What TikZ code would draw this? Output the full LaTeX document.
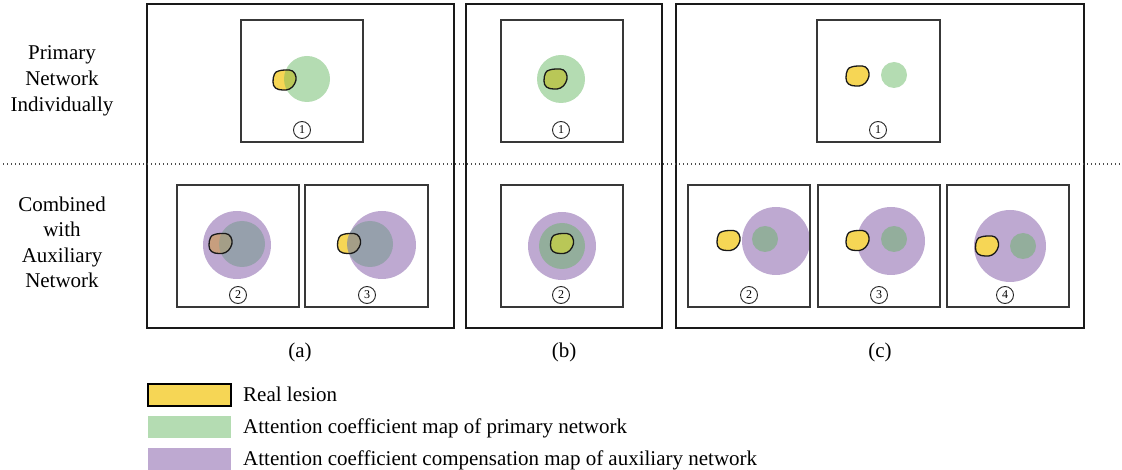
\documentclass[tikz,border=0pt]{standalone}
\usepackage{fontspec}
\setmainfont{Liberation Serif}
\definecolor{lesionY}{HTML}{F6D655}
\definecolor{attnG}{HTML}{B4DCB2}
\definecolor{compP}{HTML}{BEA9D1}
\definecolor{mixPG}{HTML}{93AE9C}
\definecolor{mixGray}{HTML}{96A0AC}
\definecolor{lesOlive}{HTML}{B9C757}
\definecolor{lesTan}{HTML}{C79E7E}
\definecolor{lesGray}{HTML}{A49E87}
\tikzset{
  panel/.style={draw=black!90, line width=1.2pt},
  cell/.style={draw=black!78, line width=1.4pt},
  lesionline/.style={draw=black!90, line width=1.3pt, line join=round},
  tag/.style={circle, draw=black!85, line width=0.9pt, inner sep=0pt,
              minimum size=17pt, font=\fontsize{12}{12}\selectfont},
  lab/.style={font=\fontsize{21}{25}\selectfont, inner sep=0pt},
  sep/.style={draw=black!70, line width=1.1pt, dash pattern=on 1.1pt off 2.9pt},
}
% irregular lesion outline around a centre point
\newcommand\lesionfill[3]{\fill[#1, shift={(#2,#3)}] plot[smooth cycle, tension=0.7] coordinates
  {(-10,-6) (-6,-9) (1,-10) (8,-9) (11.5,-3) (10,4) (5,9) (-2,10) (-9,8) (-11.5,2)};}
\newcommand\lesionclip[2]{\clip[shift={(#1,#2)}] plot[smooth cycle, tension=0.7] coordinates
  {(-10,-6) (-6,-9) (1,-10) (8,-9) (11.5,-3) (10,4) (5,9) (-2,10) (-9,8) (-11.5,2)};}
\newcommand\lesionedge[2]{\draw[lesionline, shift={(#1,#2)}] plot[smooth cycle, tension=0.7] coordinates
  {(-10,-6) (-6,-9) (1,-10) (8,-9) (11.5,-3) (10,4) (5,9) (-2,10) (-9,8) (-11.5,2)};}

\begin{document}
\begin{tikzpicture}[x=1pt,y=-1pt]
\useasboundingbox (0,0) rectangle (1122,470);

% ---------- row labels ----------
\node[lab, anchor=base] (p1) at (62,60) {Primary};
\node[lab, anchor=base] (p2) at (62,86) {Network};
\node[lab, anchor=base] (p3) at (62,112) {Individually};
\node[lab, anchor=base] (c1) at (62,212) {Combined};
\node[lab, anchor=base] (c2) at (62,237) {with};
\node[lab, anchor=base] (c3) at (62,263) {Auxiliary};
\node[lab, anchor=base] (c4) at (62,288) {Network};

% ---------- panel (a) ----------
% (a)1
\fill[attnG] (307,79) circle[radius=23pt];
\lesionfill{lesionY}{284.5}{80}
\begin{scope}\lesionclip{284.5}{80}\fill[lesOlive] (307,79) circle[radius=23pt];\end{scope}
\lesionedge{284.5}{80}
% (a)2
\fill[compP] (237,245) circle[radius=34pt];
\fill[mixGray] (242,244) circle[radius=23pt];
\lesionfill{lesTan}{220.5}{243.5}
\begin{scope}\lesionclip{220.5}{243.5}\fill[lesGray] (242,244) circle[radius=23pt];\end{scope}
\lesionedge{220.5}{243.5}
% (a)3
\fill[compP] (382,245) circle[radius=34pt];
\fill[mixGray] (370,244) circle[radius=23pt];
\lesionfill{lesionY}{349}{243.5}
\begin{scope}\lesionclip{349}{243.5}\fill[lesTan] (382,245) circle[radius=34pt];
  \fill[lesGray] (370,244) circle[radius=23pt];\end{scope}
\lesionedge{349}{243.5}

\draw[cell] (241,20) rectangle (363,142);
\draw[cell] (177,185) rectangle (299,307);
\draw[cell] (305,185) rectangle (428,307);
\node[tag] (a1) at (302,130) {1};
\node[tag] (a2) at (238,295) {2};
\node[tag] (a3) at (367,295) {3};
\draw[panel] (147,4) rectangle (454,328);

% ---------- panel (b) ----------
\fill[attnG] (561,79) circle[radius=24pt];
\lesionfill{lesOlive}{555.5}{79}
\lesionedge{555.5}{79}
\fill[compP] (562,246) circle[radius=34pt];
\fill[mixPG] (562,246) circle[radius=23pt];
\lesionfill{lesOlive}{562}{243.5}
\lesionedge{562}{243.5}
\draw[cell] (501,20) rectangle (623,142);
\draw[cell] (501,185) rectangle (623,307);
\node[tag] (b1) at (561,130) {1};
\node[tag] (b2) at (561,295) {2};
\draw[panel] (466,4) rectangle (662,328);

% ---------- panel (c) ----------
\fill[attnG] (894,75) circle[radius=13pt];
\lesionfill{lesionY}{857.5}{76}
\lesionedge{857.5}{76}
\fill[compP] (776,241) circle[radius=34pt];
\fill[mixPG] (765,239) circle[radius=13pt];
\lesionfill{lesionY}{728.5}{240.5}
\lesionedge{728.5}{240.5}
\fill[compP] (891,241) circle[radius=34pt];
\fill[mixPG] (894,239) circle[radius=13pt];
\lesionfill{lesionY}{857.5}{240.5}
\lesionedge{857.5}{240.5}
\fill[compP] (1010,246) circle[radius=36pt];
\fill[mixPG] (1023,246) circle[radius=13pt];
\lesionfill{lesionY}{987}{246}
\lesionedge{987}{246}
\draw[cell] (817,20) rectangle (940,142);
\draw[cell] (688,185) rectangle (810,307);
\draw[cell] (818,185) rectangle (940,307);
\draw[cell] (947,185) rectangle (1069,307);
\node[tag] (cc1) at (878,130) {1};
\node[tag] (cc2) at (749,295) {2};
\node[tag] (cc3) at (879,295) {3};
\node[tag] (cc4) at (1005,295) {4};
\draw[panel] (676,4) rectangle (1084,328);

% ---------- row separator ----------
\coordinate (sepL) at (3,164);
\coordinate (sepR) at (1120,164);
\draw[sep] (sepL) -- (sepR);

% ---------- captions ----------
\node[lab] (capA) at (300,352) {(a)};
\node[lab] (capB) at (564,352) {(b)};
\node[lab] (capC) at (880,352) {(c)};

% ---------- legend ----------
\fill[lesionY] (148,384) rectangle (231,406);
\draw[black, line width=1.2pt] (148,384) rectangle (231,406);
\fill[attnG] (148,416) rectangle (231,438);
\fill[compP] (148,448) rectangle (231,470);
\node[lab, anchor=base west] (k1) at (243,401) {Real lesion};
\node[lab, anchor=base west] (k2) at (243,433) {Attention coefficient map of primary network};
\node[lab, anchor=base west] (k3) at (243,465) {Attention coefficient compensation map of auxiliary network};
\end{tikzpicture}
\end{document}
